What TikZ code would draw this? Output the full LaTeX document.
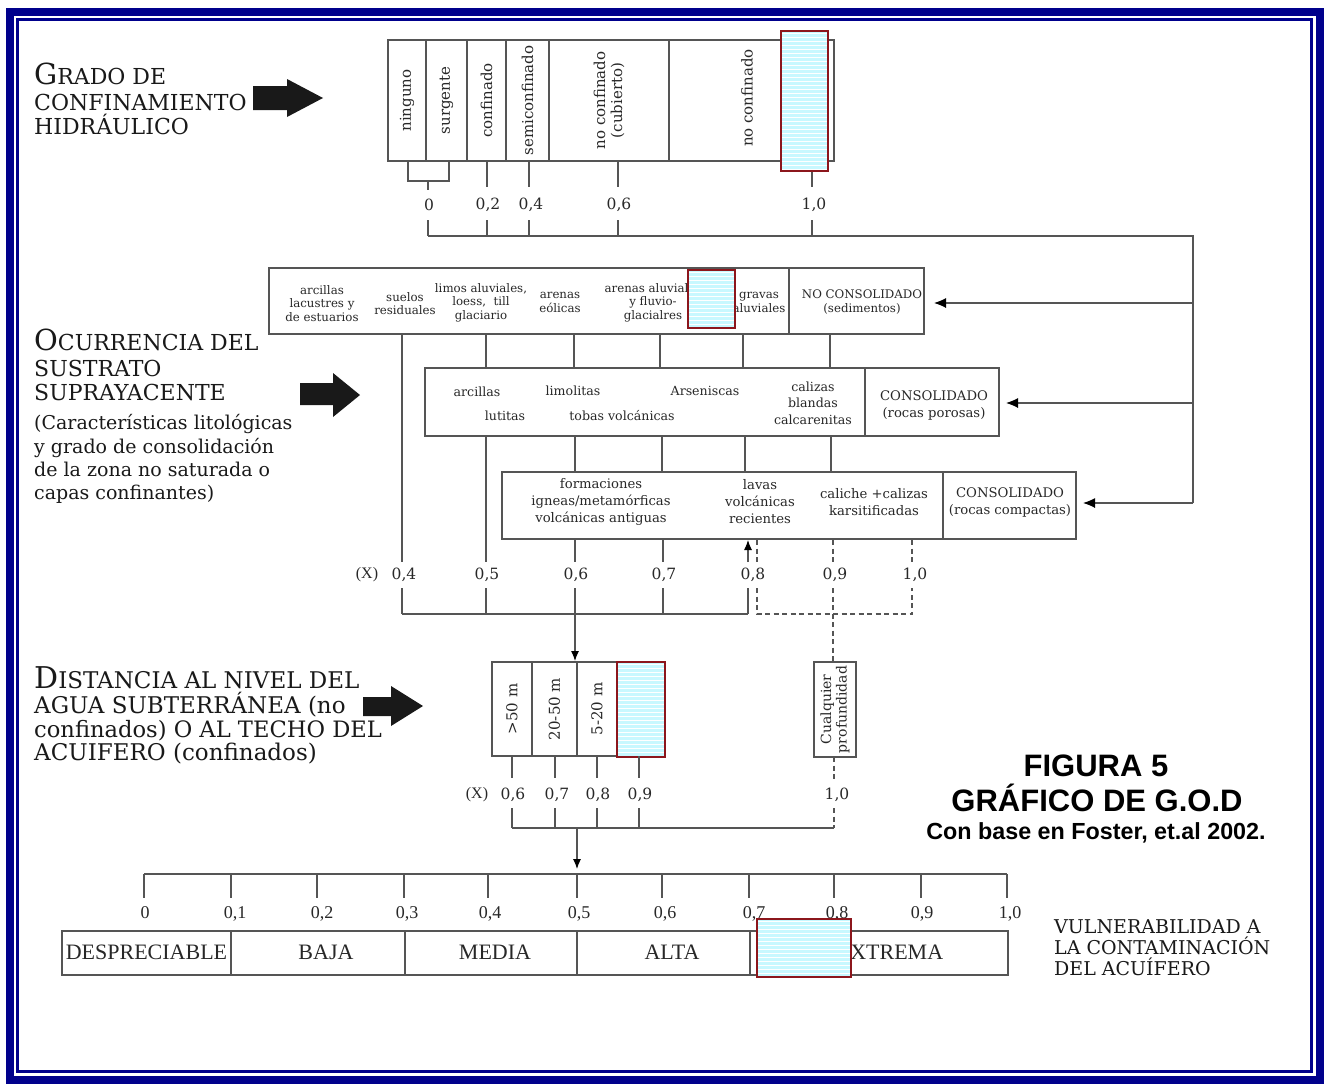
\documentclass[tikz,border=0pt]{standalone}
\usepackage{fontspec}
\setmainfont{DejaVu Serif}
\newfontfamily\timesf{Liberation Serif}
\newfontfamily\arialf{Liberation Sans}
\usetikzlibrary{arrows.meta}
\newcommand\fsz[2]{\fontsize{#1}{#2}\selectfont}
\definecolor{navyc}{RGB}{0,0,140}
\definecolor{lc}{RGB}{85,85,85}
\definecolor{tc}{RGB}{40,40,40}
\definecolor{tcb}{RGB}{25,25,25}
\definecolor{hl}{RGB}{200,248,255}
\definecolor{hlb}{RGB}{140,22,28}
\newcommand\hlrect[4]{%
  \fill[hl] (#1,#2) rectangle (#3,#4);
  \begin{scope}
    \clip (#1,#2) rectangle (#3,#4);
    \foreach \yy in {2,6,...,150} \draw[white,line width=0.9pt] ({#1},{#2+\yy}) -- ({#3},{#2+\yy});
  \end{scope}
  \draw[draw=hlb,line width=2pt] (#1,#2) rectangle (#3,#4);
}
\begin{document}
\begin{tikzpicture}[x=1pt,y=-1pt,
  ln/.style={draw=lc,line width=1.1pt},
  dl/.style={draw=lc,line width=1.1pt,dash pattern=on 5pt off 3.5pt},
  cellbox/.style={draw=lc,line width=1.2pt,inner sep=0pt,outer sep=0pt},
  txt/.style={inner sep=0pt,text=tc,align=center},
  sm/.style={txt,font=\fsz{11.8}{13.5}},
  md/.style={txt,font=\fsz{12.6}{16.5}},
  vt/.style={txt,font=\fsz{15}{17}},
  lab/.style={txt,font=\fsz{15.5}{16}},
  xl/.style={txt,font=\timesf\fsz{16}{16}},
  blab/.style={txt,font=\timesf\fsz{18}{18}},
  ttl/.style={inner sep=0pt,anchor=base west,text=tcb,font=\fsz{22}{22}},
  arr/.style={-{Latex[length=12pt,width=10pt,color=black]}},
  sarr/.style={-{Latex[length=10pt,width=8pt,color=black]}},
  bigarrow/.style={fill=black!90},
]
\useasboundingbox (0,0) rectangle (1329,1084);
\fill[white] (0,0) rectangle (1329,1084);
% frame
\draw[navyc,line width=8pt] (9.5,12) rectangle (1320,1080);
\draw[navyc,line width=3pt] (17.5,19.5) rectangle (1311,1071.5);

% ---------- titles on the left
\node[ttl] (tg1) at (34,84) {{\fsz{29}{29}G}RADO DE};
\node[ttl] (tg2) at (34,110) {CONFINAMIENTO};
\node[ttl] (tg3) at (34,134) {HIDRÁULICO};
\fill[bigarrow] (253,86) -- (287,86) -- (287,79) -- (323,98) -- (287,117) -- (287,110) -- (253,110) -- cycle;

\node[ttl] (to1) at (34,350) {{\fsz{29}{29}O}CURRENCIA DEL};
\node[ttl] (to2) at (34,376) {SUSTRATO};
\node[ttl] (to3) at (34,400) {SUPRAYACENTE};
\node[ttl,font=\fsz{19}{19}] (to4) at (34,429) {(Características litológicas};
\node[ttl,font=\fsz{19}{19}] (to5) at (34,453) {y grado de consolidación};
\node[ttl,font=\fsz{19}{19}] (to6) at (34,476) {de la zona no saturada o};
\node[ttl,font=\fsz{19}{19}] (to7) at (34,499) {capas confinantes)};
\fill[bigarrow] (300,383) -- (333,383) -- (333,373) -- (360,395) -- (333,417) -- (333,405) -- (300,405) -- cycle;

\node[ttl,font=\fsz{23}{23}] (td1) at (34,688) {{\fsz{30}{30}D}ISTANCIA AL NIVEL DEL};
\node[ttl,font=\fsz{23}{23}] (td2) at (34,713) {AGUA SUBTERRÁNEA (no};
\node[ttl,font=\fsz{22.6}{23}] (td3) at (34,737) {confinados) O AL TECHO DEL};
\node[ttl,font=\fsz{23}{23}] (td4) at (34,760) {ACUIFERO (confinados)};
\fill[bigarrow] (363,697) -- (391,697) -- (391,686) -- (423,706) -- (391,726) -- (391,716) -- (363,716) -- cycle;

% ---------- G: grado de confinamiento
\node[cellbox,vt,rotate=90,minimum width=121pt,minimum height=38pt] (g0) at (407,100.5) {ninguno};
\node[cellbox,vt,rotate=90,minimum width=121pt,minimum height=41pt] (g1) at (446.5,100.5) {surgente};
\node[cellbox,vt,rotate=90,minimum width=121pt,minimum height=39pt] (g2) at (486.5,100.5) {confinado};
\node[cellbox,vt,rotate=90,minimum width=121pt,minimum height=43pt] (g3) at (527.5,100.5) {semiconfinado};
\node[cellbox,vt,rotate=90,minimum width=121pt,minimum height=120pt] (g4) at (609,100.5) {no confinado\\(cubierto)};
\node[cellbox,rotate=90,minimum width=121pt,minimum height=165pt] (g5) at (751.5,100.5) {};
\node[vt,rotate=90] (g5t) at (747,98) {no confinado};

\draw[ln] (408,161) -- (408,181) -- (449,181) -- (449,161);
\draw[ln] (428,181) -- (428,190);
\foreach \x in {487,529,618,812} \draw[ln] (\x,161) -- (\x,187);
\node[lab] (v00) at (429,205) {0};
\node[lab] (v02) at (488,205) {0,2};
\node[lab] (v04) at (531,205) {0,4};
\node[lab] (v06) at (619,205) {0,6};
\node[lab] (v10) at (814,205) {1,0};
\foreach \x in {428,487,529,618,812} \draw[ln] (\x,220) -- (\x,236);
\draw[ln] (428,236) -- (1193,236) -- (1193,503);
\draw[ln,arr] (1193,303) -- (934,303);
\draw[ln,arr] (1193,403) -- (1006,403);
\draw[ln,arr] (1193,503) -- (1083,503);
\hlrect{781}{31}{828}{171}

% ---------- O: no consolidado
\node[cellbox,minimum width=520pt,minimum height=66pt] (ncA) at (529,301) {};
\node[cellbox,minimum width=135pt,minimum height=66pt] (ncB) at (856.5,301) {};
\node[sm] (n1) at (322,303.5) {arcillas\\lacustres y\\de estuarios};
\node[sm] (n2) at (405,303.5) {suelos\\residuales};
\node[sm] (n3) at (481,302.5) {limos aluviales,\\loess,\ \ till\\glaciario};
\node[sm] (n4) at (560,302.5) {arenas\\eólicas};
\node[sm] (n5) at (653,302.5) {arenas aluviales\\y fluvio-\\glacialres};
\node[sm] (n6) at (759,302.5) {gravas\\aluviales};
\node[sm] (n7) at (862,302) {NO CONSOLIDADO\\(sedimentos)};
\hlrect{688}{270}{735}{328}

\draw[ln] (402,334) -- (402,562);
\foreach \x in {486,574,660,743,830} \draw[ln] (\x,334) -- (\x,368);

% consolidado porosas
\node[cellbox,minimum width=440pt,minimum height=68pt] (cpA) at (645,402) {};
\node[cellbox,minimum width=134pt,minimum height=68pt] (cpB) at (932,402) {};
\node[md] (p1) at (477,392) {arcillas};
\node[md] (p2) at (505,416) {lutitas};
\node[md] (p3) at (573,391) {limolitas};
\node[md] (p4) at (622,416) {tobas volcánicas};
\node[md] (p5) at (705,391) {Arseniscas};
\node[md] (p6) at (813,403) {calizas\\blandas\\calcarenitas};
\node[md,font=\fsz{13.2}{16.5}] (p7) at (934,405.5) {CONSOLIDADO\\(rocas porosas)};

\draw[ln] (486,436) -- (486,562);
\foreach \x in {575,662,745,831} \draw[ln] (\x,436) -- (\x,472);

% consolidado compactas
\node[cellbox,minimum width=441pt,minimum height=67pt] (ccA) at (722.5,505.5) {};
\node[cellbox,minimum width=133pt,minimum height=67pt] (ccB) at (1009.5,505.5) {};
\node[md,font=\fsz{13.2}{17}] (k1) at (601,502) {formaciones\\igneas/metamórficas\\volcánicas antiguas};
\node[md,font=\fsz{13.2}{17}] (k2) at (760,502) {lavas\\volcánicas\\recientes};
\node[md,font=\fsz{13.2}{17}] (k3) at (874,502.5) {caliche +calizas\\karsitificadas};
\node[md,font=\fsz{13.2}{17}] (k4) at (1010,502.5) {CONSOLIDADO\\(rocas compactas)};

\draw[ln] (575,539) -- (575,562);
\draw[ln] (663,539) -- (663,562);
\draw[ln,sarr] (748,562) -- (748,540);
\foreach \x in {757,833,912} \draw[dl] (\x,540) -- (\x,562);

\node[xl] (ox) at (367,575) {(X)};
\node[lab] (o04) at (404,575) {0,4};
\node[lab] (o05) at (487,575) {0,5};
\node[lab] (o06) at (576,575) {0,6};
\node[lab] (o07) at (664,575) {0,7};
\node[lab] (o08) at (753,575) {0,8};
\node[lab] (o09) at (835,575) {0,9};
\node[lab] (o10) at (915,575) {1,0};

\foreach \x in {402,486,663,748} \draw[ln] (\x,588) -- (\x,614);
\draw[ln] (402,614) -- (748,614);
\draw[ln,sarr] (575,588) -- (575,661);
\draw[dl] (757,588) -- (757,614) -- (912,614) -- (912,588);
\draw[dl] (833,588) -- (833,662);

% ---------- D: distancia
\node[cellbox,vt,rotate=90,minimum width=94pt,minimum height=40pt] (d1) at (512,709) {>50 m};
\node[cellbox,vt,rotate=90,minimum width=94pt,minimum height=45pt] (d2) at (554.5,709) {20-50 m};
\node[cellbox,vt,rotate=90,minimum width=94pt,minimum height=40pt] (d3) at (597,709) {5-20 m};
\node[cellbox,rotate=90,minimum width=94pt,minimum height=47pt] (d4) at (640.5,709) {};
\hlrect{617}{662}{665}{757}
\node[cellbox,vt,font=\fsz{14}{15.5},rotate=90,minimum width=95pt,minimum height=42pt] (dq) at (835,709.5) {Cualquier\\profundidad};

\foreach \x in {512,555,597,639} \draw[ln] (\x,756) -- (\x,778);
\draw[dl] (834,757) -- (834,780);
\node[xl] (dx) at (477,795) {(X)};
\node[lab] (e06) at (513,795) {0,6};
\node[lab] (e07) at (557,795) {0,7};
\node[lab] (e08) at (598,795) {0,8};
\node[lab] (e09) at (640,795) {0,9};
\node[lab] (e10) at (837,795) {1,0};
\foreach \x in {512,555,597,639} \draw[ln] (\x,808) -- (\x,828);
\draw[dl] (834,808) -- (834,828);
\draw[ln] (512,828) -- (834,828);
\draw[ln,sarr] (577,828) -- (577,869);

% ---------- scale
\draw[ln] (144,874) -- (1007,874);
\foreach \x in {144,231,317,404,488,577,662,749,834,921,1007} \draw[ln] (\x,874) -- (\x,898);
\node[blab] (s0) at (145,913) {0};
\node[blab] (s1) at (235,914) {0,1};
\node[blab] (s2) at (322,914) {0,2};
\node[blab] (s3) at (407,914) {0,3};
\node[blab] (s4) at (490,914) {0,4};
\node[blab] (s5) at (579,914) {0,5};
\node[blab] (s6) at (665,914) {0,6};
\node[blab] (s7) at (754,914) {0,7};
\node[blab] (s8) at (837,914) {0,8};
\node[blab] (s9) at (922,914) {0,9};
\node[blab] (s10) at (1010,914) {1,0};

\node[cellbox,minimum width=169pt,minimum height=44pt] (b1) at (146.5,953) {};
\node[cellbox,minimum width=174pt,minimum height=44pt] (b2) at (318,953) {};
\node[cellbox,minimum width=172pt,minimum height=44pt] (b3) at (491,953) {};
\node[cellbox,minimum width=173pt,minimum height=44pt] (b4) at (663.5,953) {};
\node[cellbox,minimum width=258pt,minimum height=44pt] (b5) at (879,953) {};
\node[blab,font=\timesf\fsz{22}{22}] (bt1) at (146.5,952) {DESPRECIABLE};
\node[blab,font=\timesf\fsz{22}{22}] (bt2) at (326,952) {BAJA};
\node[blab,font=\timesf\fsz{22}{22}] (bt3) at (495,952) {MEDIA};
\node[blab,font=\timesf\fsz{22}{22}] (bt4) at (672,952) {ALTA};
\node[blab,font=\timesf\fsz{22}{22}] (bt5) at (890,952) {EXTREMA};
\hlrect{757}{919}{851}{977}

\node[ttl,font=\fsz{19}{19}] (vu1) at (1054,933) {VULNERABILIDAD A};
\node[ttl,font=\fsz{19}{19}] (vu2) at (1054,954) {LA CONTAMINACIÓN};
\node[ttl,font=\fsz{19}{19}] (vu3) at (1054,975) {DEL ACUÍFERO};

% ---------- caption
\node[inner sep=0pt,anchor=base,font=\arialf\bfseries\fsz{31}{31}] (f1) at (1096,776) {FIGURA 5};
\node[inner sep=0pt,anchor=base,font=\arialf\bfseries\fsz{31}{31}] (f2) at (1097,811) {GRÁFICO DE G.O.D};
\node[inner sep=0pt,anchor=base,font=\arialf\bfseries\fsz{23.3}{23}] (f3) at (1096,839) {Con base en Foster, et.al 2002.};
\end{tikzpicture}
\end{document}
